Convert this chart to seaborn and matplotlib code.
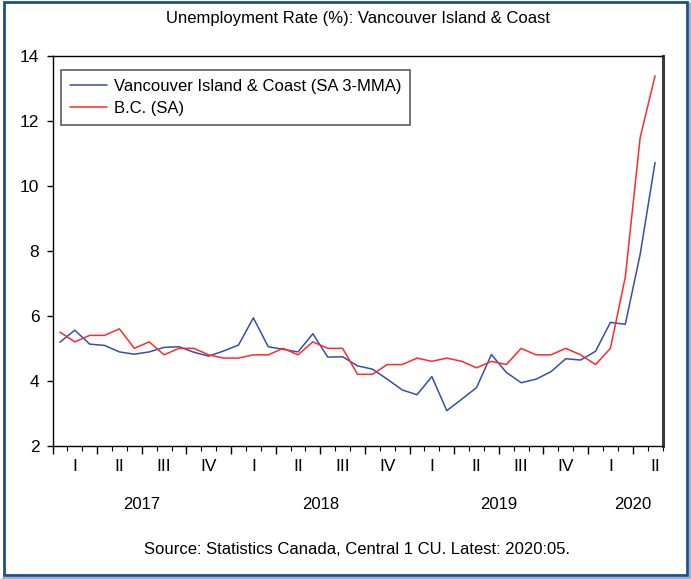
import numpy as np
import pandas as pd
import matplotlib
matplotlib.use("Agg")
import matplotlib.pyplot as plt
import seaborn as sns
from matplotlib import font_manager
from matplotlib.patches import Rectangle
from matplotlib.lines import Line2D
from matplotlib.ticker import MultipleLocator, NullFormatter

# ---------------- data ----------------
months = pd.period_range("2017-01", "2020-05", freq="M")
vancouver_island = [5.19, 5.56, 5.13, 5.09, 4.89, 4.82, 4.89, 5.03, 5.05, 4.88, 4.76, 4.92,
                    5.10, 5.94, 5.05, 4.97, 4.89, 5.45, 4.73, 4.74, 4.46, 4.36, 4.05, 3.72,
                    3.57, 4.13, 3.08, 3.43, 3.79, 4.81, 4.26, 3.94, 4.05, 4.28, 4.68, 4.64,
                    4.91, 5.80, 5.74, 7.90, 10.73]
bc = [5.5, 5.2, 5.4, 5.4, 5.6, 5.0, 5.2, 4.8, 5.0, 5.0, 4.8, 4.7,
      4.7, 4.8, 4.8, 5.0, 4.8, 5.2, 5.0, 5.0, 4.2, 4.2, 4.5, 4.5,
      4.7, 4.6, 4.7, 4.6, 4.4, 4.6, 4.5, 5.0, 4.8, 4.8, 5.0, 4.8,
      4.5, 5.0, 7.2, 11.5, 13.4]
series_names = ["Vancouver Island & Coast (SA 3-MMA)", "B.C. (SA)"]
quarter_labels = ["I", "II", "III", "IV"]
years = [2017, 2018, 2019, 2020]
title = "Unemployment Rate (%): Vancouver Island & Coast"
source = "Source: Statistics Canada, Central 1 CU. Latest: 2020:05."

BLUE = "#3450A8"
RED = "#FF2A2A"
FS = 12

# ---------------- style ----------------
sns.set_theme(style="white")
avail = {f.name for f in font_manager.fontManager.ttflist}
fam = ["Liberation Sans Narrow"] if "Liberation Sans Narrow" in avail else ["Liberation Sans"]
plt.rcParams["font.family"] = fam + ["DejaVu Sans"]
plt.rcParams["text.color"] = "black"
plt.rcParams["xtick.color"] = "black"
plt.rcParams["ytick.color"] = "black"

# month index -> position at middle of each month
midx = (months.year - 2017) * 12 + (months.month - 1)
xpos = np.asarray(midx, dtype=float) + 0.5
n = len(months)
df = pd.DataFrame({
    "x": np.concatenate([xpos, xpos]),
    "rate": list(vancouver_island) + list(bc),
    "series": [series_names[0]] * n + [series_names[1]] * n,
})

fig = plt.figure(figsize=(6.91, 5.79), dpi=100)
ax = fig.add_axes([52.5 / 691, 1 - 445.7 / 579, 610 / 691, 389.4 / 579])
sns.lineplot(data=df, x="x", y="rate", hue="series", hue_order=series_names,
             palette=[BLUE, RED], linewidth=1.1, ax=ax, legend=False)

ax.set_xlim(0, 41)
ax.set_ylim(2, 14)
ax.set_xlabel("")
ax.set_ylabel("")
ax.yaxis.set_major_locator(MultipleLocator(2))
ax.xaxis.set_major_locator(MultipleLocator(3))
ax.xaxis.set_minor_locator(MultipleLocator(1))
ax.xaxis.set_major_formatter(NullFormatter())
ax.tick_params(axis="x", which="major", length=6, width=1, direction="out", bottom=True)
ax.tick_params(axis="x", which="minor", length=3.5, width=0.8, direction="out", bottom=True)
ax.tick_params(axis="y", which="major", length=4.5, width=1, direction="out", left=True,
               labelsize=FS + 0.5, pad=5)

for s in ["top", "left", "bottom"]:
    ax.spines[s].set_color("black")
    ax.spines[s].set_linewidth(1.0)
ax.spines["right"].set_color("#3c3c3c")
ax.spines["right"].set_linewidth(2.2)

# quarter labels
for q in range(14):
    ax.annotate(quarter_labels[q % 4], xy=(q * 3 + 1.5, 0), xycoords=("data", "axes fraction"),
                xytext=(0, -21), textcoords="offset pixels", ha="center", va="center",
                fontsize=FS + 0.5)
# year labels
year_centers = [6, 18, 30, 39]
for yv, c in zip(years, year_centers):
    ax.annotate(str(yv), xy=(c, 0), xycoords=("data", "axes fraction"),
                xytext=(0, -59), textcoords="offset pixels", ha="center", va="center",
                fontsize=FS)

# legend
handles = [Line2D([], [], color=BLUE, lw=1.1), Line2D([], [], color=RED, lw=1.1)]
leg = ax.legend(handles, series_names, loc="upper left", bbox_to_anchor=(0.014, 0.965),
                borderaxespad=0, frameon=True, fancybox=False, fontsize=FS,
                handlelength=2.2, handletextpad=0.4, labelspacing=0.4,
                borderpad=0.55)
leg.get_frame().set_edgecolor("#333333")
leg.get_frame().set_linewidth(1.2)

# title and source
cx = (52.5 + 662.5) / 2 / 691
fig.text(cx, 1 - 18 / 579, title, ha="center", va="center", fontsize=FS)
fig.text(cx, 1 - 549 / 579, source, ha="center", va="center", fontsize=FS)

# outer frame
fig.add_artist(Line2D([689.5 / 691, 689.5 / 691], [0, 1 - 3 / 579], transform=fig.transFigure,
                      color="#9DB4D3", lw=2.2))
fig.add_artist(Line2D([3 / 691, 1], [1.5 / 579, 1.5 / 579], transform=fig.transFigure,
                      color="#9DB4D3", lw=2.2))
fig.add_artist(Rectangle((3.5 / 691, 4.5 / 579), 683.5 / 691, 573 / 579, transform=fig.transFigure,
                         fill=False, ec="#1F4E8C", lw=2.0))

fig.savefig("out.png", dpi=100)
